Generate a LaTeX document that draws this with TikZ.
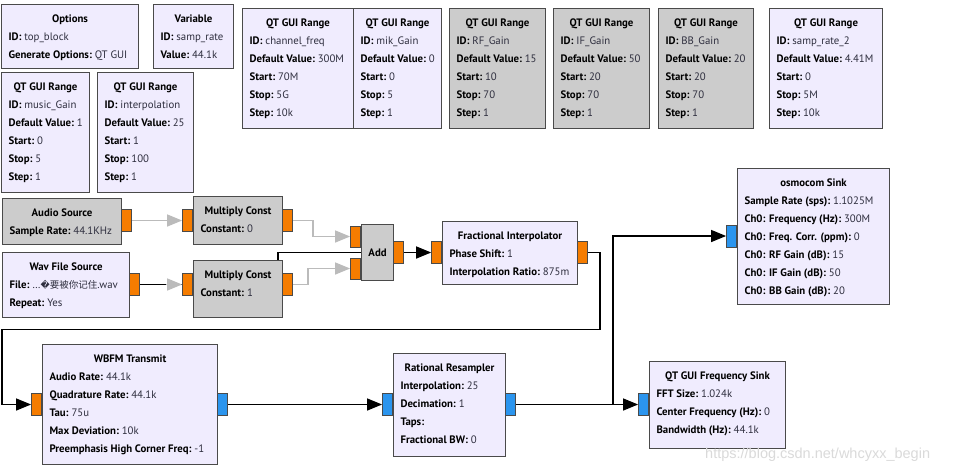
\documentclass[tikz,border=0pt]{standalone}
\usepackage{fontspec}
\setmainfont{PT Sans}
\newfontfamily\cjkf{Noto Sans CJK SC}
\newfontfamily\dvsf{DejaVu Sans}
\newfontfamily\lsans{Liberation Sans}
\usetikzlibrary{arrows.meta}
\definecolor{blkc}{HTML}{F0ECFE}
\definecolor{disc}{HTML}{CCCCCC}
\definecolor{bord}{HTML}{4A4A4A}
\definecolor{fportc}{HTML}{F57C00}
\definecolor{cportc}{HTML}{2B95EE}
\definecolor{glinec}{HTML}{BBBBBB}
\definecolor{valc}{HTML}{2E2E3E}
\definecolor{wmc}{HTML}{DADADA}
\pgfdeclarelayer{bg}
\pgfsetlayers{bg,main}
\newcommand\ttl[1]{{\leftskip=0pt plus 1fil\rightskip=0pt plus 1fil\parfillskip=0pt\bfseries\rule{0pt}{18pt}#1\par}}
\newcommand\kv[2]{{\bfseries #1:}\ {\color{valc}#2}\par}
\newcommand\grcb[7]{\node[#2] (#1) at (#3,#4) {\parbox[c][#6pt][t]{#5pt}{\fontsize{10.8}{18}\selectfont\raggedright\parindent=0pt\leftskip=7pt\relax #7}};}
\tikzset{
 block/.style={draw=bord, line width=1.1pt, fill=blkc, inner sep=0pt, anchor=north west},
 dblock/.style={block, fill=disc},
 fp/.style={draw=bord, line width=0.9pt, fill=fportc, minimum width=10pt, minimum height=22pt, inner sep=0pt},
 cp/.style={fp, fill=cportc},
 conn/.style={line width=1.3pt, black, -{Triangle[length=15pt,width=12pt]}},
 gconn/.style={conn, glinec},
}
\begin{document}
\begin{tikzpicture}[x=1pt, y=-1pt, font=\fontsize{10.8}{18}\selectfont]
\useasboundingbox (0,0) rectangle (961,472);
\begin{pgfonlayer}{bg}
\fill[white] (0,0) rectangle (961,472);
\end{pgfonlayer}
% variable / range blocks
\grcb{opt}{block}{1}{4}{137}{64}{\ttl{Options}\kv{ID}{top\_block}\kv{Generate Options}{QT GUI}}
\grcb{var}{block}{153}{4}{80}{64}{\ttl{Variable}\kv{ID}{samp\_rate}\kv{Value}{44.1k}}
\grcb{rmg}{block}{1}{72}{88}{120}{\ttl{QT GUI Range}\kv{ID}{music\_Gain}\kv{Default Value}{1}\kv{Start}{0}\kv{Stop}{5}\kv{Step}{1}}
\grcb{rint}{block}{97}{72}{96}{120}{\ttl{QT GUI Range}\kv{ID}{interpolation}\kv{Default Value}{25}\kv{Start}{1}\kv{Stop}{100}\kv{Step}{1}}
\grcb{rcf}{block}{242}{8}{111}{120}{\ttl{QT GUI Range}\kv{ID}{channel\_freq}\kv{Default Value}{300M}\kv{Start}{70M}\kv{Stop}{5G}\kv{Step}{10k}}
\grcb{rmk}{block}{353}{8}{88}{120}{\ttl{QT GUI Range}\kv{ID}{mik\_Gain}\kv{Default Value}{0}\kv{Start}{0}\kv{Stop}{5}\kv{Step}{1}}
\grcb{rrf}{dblock}{449}{8}{96}{120}{\ttl{QT GUI Range}\kv{ID}{RF\_Gain}\kv{Default Value}{15}\kv{Start}{10}\kv{Stop}{70}\kv{Step}{1}}
\grcb{rif}{dblock}{553}{8}{96}{120}{\ttl{QT GUI Range}\kv{ID}{IF\_Gain}\kv{Default Value}{50}\kv{Start}{20}\kv{Stop}{70}\kv{Step}{1}}
\grcb{rbb}{dblock}{658}{8}{95}{120}{\ttl{QT GUI Range}\kv{ID}{BB\_Gain}\kv{Default Value}{20}\kv{Start}{20}\kv{Stop}{70}\kv{Step}{1}}
\grcb{rsr}{block}{769}{8}{113}{120}{\ttl{QT GUI Range}\kv{ID}{samp\_rate\_2}\kv{Default Value}{4.41M}\kv{Start}{0}\kv{Stop}{5M}\kv{Step}{10k}}
% flow blocks
\grcb{aud}{dblock}{2}{198}{119}{46}{\ttl{Audio Source}\kv{Sample Rate}{44.1KHz}}
\grcb{wav}{block}{2}{252}{127}{65}{\ttl{Wav File Source}\kv{File}{…{\dvsf\fontsize{9}{18}\selectfont �}{\cjkf\fontsize{9.5}{18}\selectfont 要被你记住}.wav}\kv{Repeat}{Yes}}
\grcb{mc1}{dblock}{193}{196}{89}{48}{\ttl{Multiply Const}\kv{Constant}{0}}
\grcb{mc2}{dblock}{193}{260}{89}{57}{\ttl{Multiply Const}\kv{Constant}{1}}
\node[dblock, minimum width=32pt, minimum height=56pt, font=\fontsize{10.8}{18}\selectfont\bfseries] (add) at (361,224) {Add};
\grcb{fi}{block}{442}{221}{135}{63}{\ttl{Fractional Interpolator}\kv{Phase Shift}{1}\kv{Interpolation Ratio}{875m}}
\grcb{osm}{block}{737}{168}{152}{136}{\ttl{osmocom Sink}\kv{Sample Rate (sps)}{1.1025M}\kv{Ch0: Frequency (Hz)}{300M}\kv{Ch0: Freq. Corr. (ppm)}{0}\kv{Ch0: RF Gain (dB)}{15}\kv{Ch0: IF Gain (dB)}{50}\kv{Ch0: BB Gain (dB)}{20}}
\grcb{wb}{block}{42}{344}{175}{120}{\ttl{WBFM Transmit}\kv{Audio Rate}{44.1k}\kv{Quadrature Rate}{44.1k}\kv{Tau}{75u}\kv{Max Deviation}{10k}\kv{Preemphasis High Corner Freq}{-1}}
\grcb{rr}{block}{393}{353}{112}{103}{\ttl{Rational Resampler}\kv{Interpolation}{25}\kv{Decimation}{1}\kv{Taps}{}\kv{Fractional BW}{0}}
\grcb{fs}{block}{649}{361}{136}{87}{\ttl{QT GUI Frequency Sink}\kv{FFT Size}{1.024k}\kv{Center Frequency (Hz)}{0}\kv{Bandwidth (Hz)}{44.1k}}
% ports
\node[fp, anchor=west] (audo) at (121,220.5) {};
\node[fp, anchor=east] (m1i) at (193,220.5) {};
\node[fp, anchor=west] (m1o) at (282,220.5) {};
\node[fp, anchor=west] (wavo) at (129,284.5) {};
\node[fp, anchor=east] (m2i) at (193,284.5) {};
\node[fp, anchor=west] (m2o) at (282,284.5) {};
\node[fp, anchor=east, minimum height=21pt] (ai0) at (361,236.5) {};
\node[fp, anchor=east, minimum height=21pt] (ai1) at (361,268.5) {};
\node[fp, anchor=west] (ao) at (393,252.5) {};
\node[fp, anchor=east] (fii) at (442,252.5) {};
\node[fp, anchor=west] (fio) at (577,252.5) {};
\node[fp, anchor=east] (wbi) at (42,404.5) {};
\node[cp, anchor=west] (wbo) at (217,404.5) {};
\node[cp, anchor=east] (rri) at (393,404.5) {};
\node[cp, anchor=west] (rro) at (505,404.5) {};
\node[cp, anchor=east] (fsi) at (649,404.5) {};
\node[cp, anchor=east] (osi) at (737,236) {};
% connections
\begin{pgfonlayer}{bg}
\draw[gconn] (audo.east) -- (m1i.west);
\draw[gconn] (m1o.east) -- ++(20,0) |- (ai0.west);
\draw[gconn] (m2o.east) -- ++(15,0) |- (ai1.west);
\draw[gconn] (ao.east) -- (fii.west);
\draw[conn] (wavo.east) -- ++(138,0) |- (fii.west);
\draw[gconn, shorten <=26pt] (wavo.east) -- (m2i.west);
\draw[conn] (fio.east) -- ++(12,0) -- ++(0,77) -| ([xshift=-29pt]wbi.west) -- (wbi.west);
\draw[conn] (wbo.east) -- (rri.west);
\draw[conn] (rro.east) -- (fsi.west);
\draw[conn] (rro.east) -- ++(97,0) |- (osi.west);
\end{pgfonlayer}
% watermark
\node[font=\lsans\fontsize{14.5}{16}\selectfont, text=wmc, anchor=west, inner sep=0pt] (wmk) at (705,455) {https://blog.csdn.net/whcyxx\_begin};
\end{tikzpicture}
\end{document}
